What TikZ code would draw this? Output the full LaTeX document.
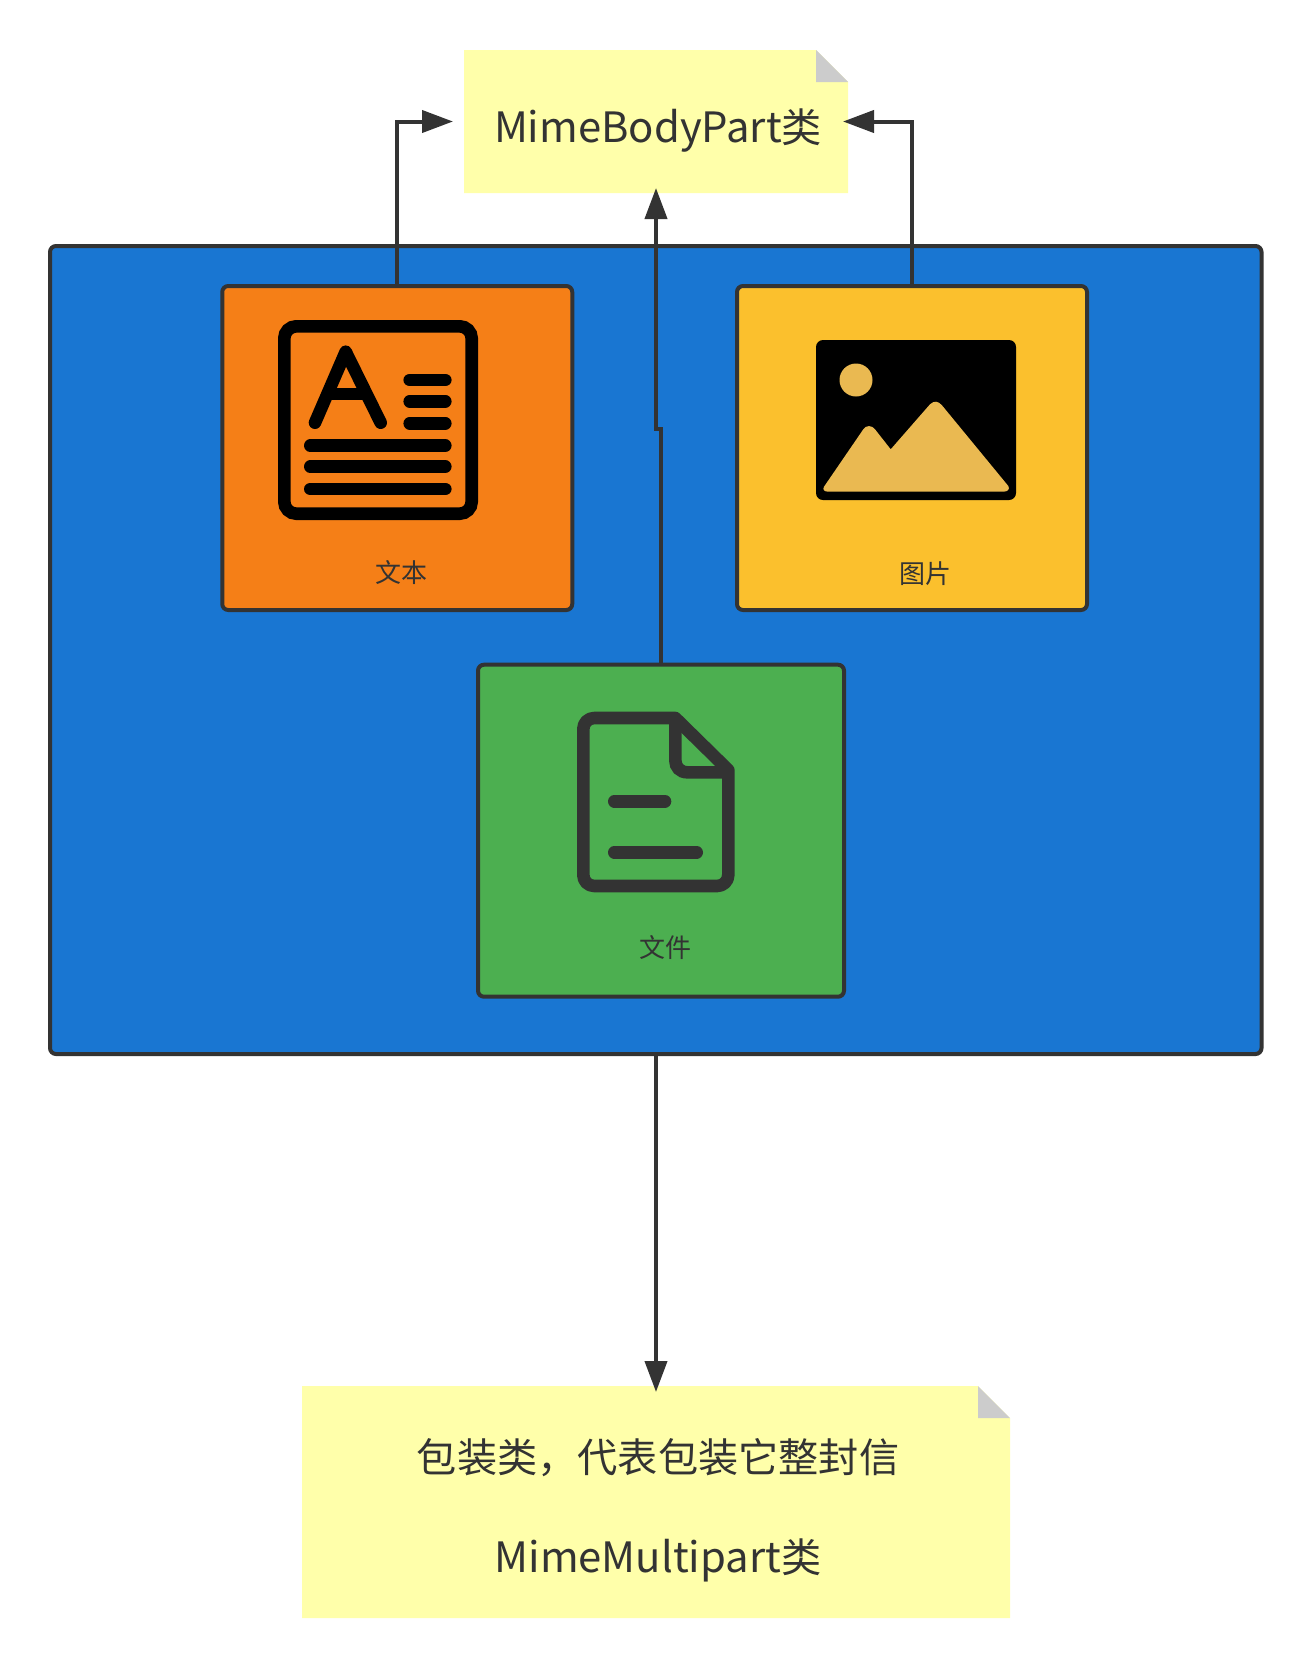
\documentclass[tikz,border=0pt]{standalone}
\usepackage{fontspec}
\setmainfont{Noto Sans CJK SC}
\newfontfamily\latinface[Scale=1.04]{Noto Sans CJK SC}
\usetikzlibrary{arrows.meta}
\definecolor{ink}{HTML}{333333}
\definecolor{bluebg}{HTML}{1976D2}
\definecolor{orangebg}{HTML}{F57F17}
\definecolor{yellowbg}{HTML}{FBC02D}
\definecolor{greenbg}{HTML}{4CAF50}
\definecolor{notebg}{HTML}{FFFFAA}
\definecolor{foldbg}{HTML}{CCCCCC}
\definecolor{hillbg}{HTML}{EAB951}
\newcommand{\dropline}[2]{\raisebox{-#1pt}[0pt][0pt]{\kern4pt #2}}
\tikzset{
  cardbox/.style={draw=ink,line width=4pt,rounded corners=6pt,outer sep=0pt,inner sep=0pt},
  notetext/.style={text=ink,font=\fontsize{40.2}{100}\selectfont,inner sep=0pt,outer sep=0pt,align=center},
  notefill/.style={fill=notebg},
  foldfill/.style={fill=foldbg},
  smalltext/.style={text=ink,font=\fontsize{26}{30}\selectfont,inner sep=0pt},
  link/.style={draw=ink,line width=4pt,-{Triangle[length=31pt,width=22pt]}},
  iconline/.style={line width=12.6pt,line cap=round,line join=round}
}
\begin{document}
\begin{tikzpicture}[x=1pt,y=-1pt]
\useasboundingbox (0,0) rectangle (1312,1668);
% notes
\fill[notefill] (464,50) -- (816,50) -- (848,82) -- (848,193) -- (464,193) -- cycle;
\fill[foldfill] (816,50) -- (848,82) -- (816,82) -- cycle;
\node[notetext,minimum width=384pt,minimum height=143pt] (partnote) at (656,121.5) {\dropline{20.5}{{\latinface MimeBodyPart}类}};
\fill[notefill] (302,1386) -- (978,1386) -- (1010,1418) -- (1010,1618) -- (302,1618) -- cycle;
\fill[foldfill] (978,1386) -- (1010,1418) -- (978,1418) -- cycle;
\node[notetext,minimum width=708pt,minimum height=232pt] (multinote) at (656,1502) {\dropline{20}{包装类，代表包装它整封信}\\\dropline{20}{{\latinface MimeMultipart}类}};
% container
\node[cardbox,fill=bluebg,minimum width=1211.5pt,minimum height=808pt] (outer) at (655.75,650) {};
% connector anchors
\coordinate (jogtop) at (656,429);
\coordinate (jogbot) at (661,429);
% cards
\node[cardbox,fill=orangebg,minimum width=350pt,minimum height=324pt] (textcard) at (397.25,448) {};
\node[cardbox,fill=yellowbg,minimum width=350pt,minimum height=324pt] (imagecard) at (912,448) {};
\node[cardbox,fill=greenbg,minimum width=366pt,minimum height=332pt] (filecard) at (661,830.7) {};
% connectors
\draw[link] (textcard.north) |- ([xshift=-11pt]partnote.west);
\draw[link] (imagecard.north) |- ([xshift=-5pt]partnote.east);
\draw[link] (filecard.north) -- (jogbot) -- (jogtop) -- ([yshift=5pt]partnote.south);
\draw[link] (multinote.north |- outer.south) -- ([yshift=-6pt]multinote.north);
% text icon
\draw[line width=12.6pt,rounded corners=12pt] (284.3,326.3) rectangle (471.7,513.7);
\draw[iconline] (315,422.7) -- (345.7,351.7) -- (380.7,422.7);
\draw[line width=12.6pt] (331.7,394) -- (363,394);
\foreach \ya in {380,401.3,423.3} \draw[iconline] (409.7,\ya) -- (445.3,\ya);
\foreach \ya in {445.7,466.7,489} \draw[iconline] (310.3,\ya) -- (445.3,\ya);
% image icon
\fill[black,rounded corners=7pt] (816,340) rectangle (1016,500);
\fill[hillbg] (856,380) circle (16.5pt);
\fill[hillbg] (824,486.7) .. controls (822,490) and (825,491.7) .. (828.3,491.7) -- (1003.3,491.7)
  .. controls (1008,491.7) and (1010,489) .. (1008.3,486) -- (941.7,405)
  .. controls (938,401) and (934,400.5) .. (930,404.3) -- (890.7,449.3) -- (875,429.3)
  .. controls (872,425) and (866,425) .. (863.3,429.3) -- cycle;
% file icon
\draw[draw=ink,iconline,line cap=butt] (675.3,718) -- (594.3,718) .. controls (588,718) and (583.3,723) .. (583.3,729)
  -- (583.3,875) .. controls (583.3,881) and (588,886) .. (594.3,886) -- (717.3,886)
  .. controls (723.3,886) and (728.3,881) .. (728.3,875) -- (728.3,770) -- (675.3,718) -- cycle;
\draw[draw=ink,line width=12.6pt] (675.3,718) -- (675.3,760.3) .. controls (675.3,767) and (680,772.3) .. (687.3,772.3) -- (728.3,772.3);
\draw[draw=ink,iconline] (614.3,801.3) -- (665,801.3);
\draw[draw=ink,iconline] (614.3,852.3) -- (696.7,852.3);
% labels
\node[smalltext] (textlabel) at (401,573) {文本};
\node[smalltext] (imagelabel) at (925,574) {图片};
\node[smalltext] (filelabel) at (665.5,948) {文件};
\end{tikzpicture}
\end{document}
